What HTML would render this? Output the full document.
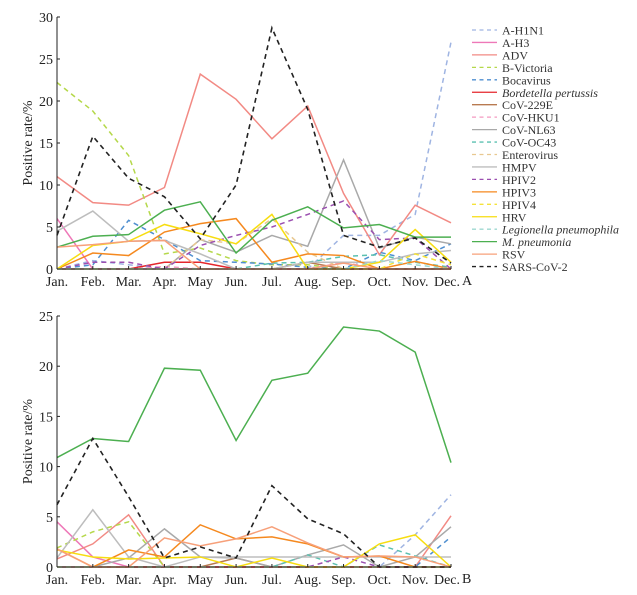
<!DOCTYPE html>
<html><head><meta charset="utf-8"><style>
body{margin:0;background:#fff;}
svg{display:block;font-family:"Liberation Serif",serif;}
</style></head><body>
<svg id="c" width="637" height="595"></svg>
<script>
const months=["Jan.","Feb.","Mar.","Apr.","May","Jun.","Jul.","Aug.","Sep.","Oct.","Nov.","Dec."];
const names=["A-H1N1","A-H3","ADV","B-Victoria","Bocavirus","Bordetella pertussis","CoV-229E","CoV-HKU1","CoV-NL63","CoV-OC43","Enterovirus","HMPV","HPIV2","HPIV3","HPIV4","HRV","Legionella pneumophila","M. pneumonia","RSV","SARS-CoV-2"];
const italic=[5,16,17];
const colors=["#9fb4e2","#ee78b8","#f28a84","#b5d84a","#4f8fd0","#e4262b","#b87a50","#f49ac0","#a9a9a9","#5bc0b0","#e8c890","#bdbdbd","#9b4fb0","#f5891f","#f5e23a","#f7dd10","#9ed8d0","#4caf50","#f7a07a","#222222"];
const dashed=[1,0,0,1,1,0,0,1,0,1,1,0,1,0,1,0,1,0,0,1];
const ticksA=[0,5,10,15,20,25,30];
const ticksB=[0,5,10,15,20,25];
const dataA=[
[0,1,0.5,0,0,0,0,0,4,4,6.5,27],
[6,0,0,0,0,0,0,0,0,0,0,0],
[11,7.9,7.6,9.7,23.2,20.2,15.5,19.4,9,1.7,7.6,5.5],
[22.2,18.8,13.5,1.8,2.5,1,0.5,0.5,0,0,0,0],
[0,0.5,5.8,3.5,1,0.8,0.6,0.2,0,2,1,3],
[0,0,0,0.8,0.8,0,0,0,0,0,0,0],
[0,0,0,0,0,0,0,0.8,0,0,0,0],
[0,0,0,0.3,0,0,0,0,0.8,0,0,0],
[0,0,0,0,3.5,2,4,2.7,13,2.5,3.8,3],
[0,0,0,0,0,0,0.7,0.8,1.5,1.7,0.8,0.2],
[0,0,0,0,3.5,3,6,2,0,0,0,0],
[4.5,6.9,3.3,3.4,1.8,0,0,0.8,0.8,0.8,1.8,2.2],
[0,0.8,0.8,0,2.8,4,5,6.5,8.1,3.5,3.7,0],
[0,1.9,1.6,4.4,5.4,6,0.8,1.8,1.6,0,0.9,0],
[0,0,0,0,0,0,0,0,0,0,1.8,0.5],
[0,2.8,3.3,5.3,4.2,3,6.5,0,0,0.8,4.7,0.8],
[0,0,0,0,0,0,0,0,0,1,0.5,0],
[2.6,3.9,4.1,7,8,1.9,5.8,7.4,4.9,5.3,3.8,3.8],
[2.6,2.9,3.3,3.4,0,0,0,0,0.7,0,0,0],
[4,15.8,10.8,8.6,3.6,10,28.7,19,4,2.6,3.7,0.7]];
const dataB=[
[0,0,0,0,0,0,0,0,0,0,3.2,7.2],
[4.5,1,0,0,0,0,0,0,0,0,0,0],
[0.8,2.3,5.2,0,0,0,0,0,0,0,0,5.1],
[1.9,3.5,4.5,0,0,0,0,0,0,0,0,0],
[0,0,0,0,0,0,0,0,0,0,0,3],
[0,0,0,0,0,0,0,0,0,0,0,0],
[0,0,0,0,0,0.9,0,0,0,0,0,0],
[0,0,0,0,0,0,0,0,0,0,0,0],
[0,0,0.9,3.8,1,0.9,0,1.2,2.2,0,1,4],
[0,0,0,0,0,0,0,1.2,0,2.2,1.1,0],
[0,0,0,0,0,0,0,0,0,0,0,0],
[0.9,5.7,1,0,1,1,1,1,1,1,1,1],
[0,0,0,0,0,0,0,0,1,0,0,0],
[1.8,0,1.7,1,4.2,2.8,3,2.3,1,1.1,0,0],
[0,0,0,0,0,0,0,0,0,0,0,0],
[1.7,1,0.8,0.9,1,0,0.9,0,0,2.3,3.2,0],
[0,0,0,0,0,0,0,0,0,0,0,0],
[10.9,12.8,12.5,19.8,19.6,12.6,18.6,19.3,23.9,23.5,21.4,10.4],
[1.8,0,0,2.9,2.1,2.8,4,2.4,1,1.1,1,0],
[6.2,12.8,7,0.9,2,0.9,8.1,4.8,3.3,0,0,0]];
const NS="http://www.w3.org/2000/svg";
const svg=document.getElementById('c');
function mk(t,a,p){const e=document.createElementNS(NS,t);for(const k in a)e.setAttribute(k,a[k]);(p||svg).appendChild(e);return e;}
const x0=57,x1=451;
function xs(i){return x0+i*(x1-x0)/11;}
function drawPanel(data,ticks,yBot,yTop,maxV,label,tag){
  const g=mk('g',{});
  
  
  const ys=v=>yBot-(v/maxV)*(yBot-yTop);
  data.forEach((s,k)=>{
    const pts=s.map((v,i)=>xs(i)+','+ys(v)).join(' ');
    const pl=mk('polyline',{points:pts,fill:'none',stroke:colors[k],'stroke-width':k==19?1.6:1.5,'stroke-dasharray':dashed[k]?'5,4':'none'},g);
    
    
  });
  mk('line',{x1:x0,y1:yBot,x2:x1,y2:yBot,stroke:'#222','stroke-width':1},g);
  mk('line',{x1:x0,y1:yBot,x2:x0,y2:yTop,stroke:'#222','stroke-width':1},g);
  ticks.forEach(t=>{const y=ys(t);mk('line',{x1:x0,y1:y,x2:x0+3,y2:y,stroke:'#222'},g);
    const tx=mk('text',{x:x0-4,y:y+5,'text-anchor':'end','font-size':14,fill:'#222'},g);tx.textContent=t;
    });
  months.forEach((m,i)=>{mk('line',{x1:xs(i),y1:yBot,x2:xs(i),y2:yBot-3,stroke:'#222'},g);
    const tx=mk('text',{x:xs(i)+(i==11?-4:0),y:yBot+17,'text-anchor':'middle','font-size':14,fill:'#222'},g);tx.textContent=m;
    });
  const yt=mk('text',{x:0,y:0,transform:`translate(32,${(yBot+yTop)/2}) rotate(-90)`,'text-anchor':'middle','font-size':14,fill:'#222'},g);
  yt.textContent='Positive rate/%';
  
  const lt=mk('text',{x:462,y:yBot+16,'font-size':14,fill:'#222'},g);lt.textContent=label;
  
}
drawPanel(dataA,ticksA,269,17,30,'A','a');
drawPanel(dataB,ticksB,567,316,25,'B','b');
const lg=mk('g',{});


names.forEach((n,k)=>{
  const y=30+k*12.45;
  const e=mk('g',{},lg);
  
  
  mk('line',{x1:472,y1:y,x2:497,y2:y,stroke:colors[k],'stroke-width':1.3,'stroke-dasharray':dashed[k]?'4,3.5':'none'},e);
  const t=mk('text',{x:502,y:y+4.5,'font-size':12,fill:'#333','font-style':italic.includes(k)?'italic':'normal'},e);
  t.textContent=n;
});
</script>
</body></html>
